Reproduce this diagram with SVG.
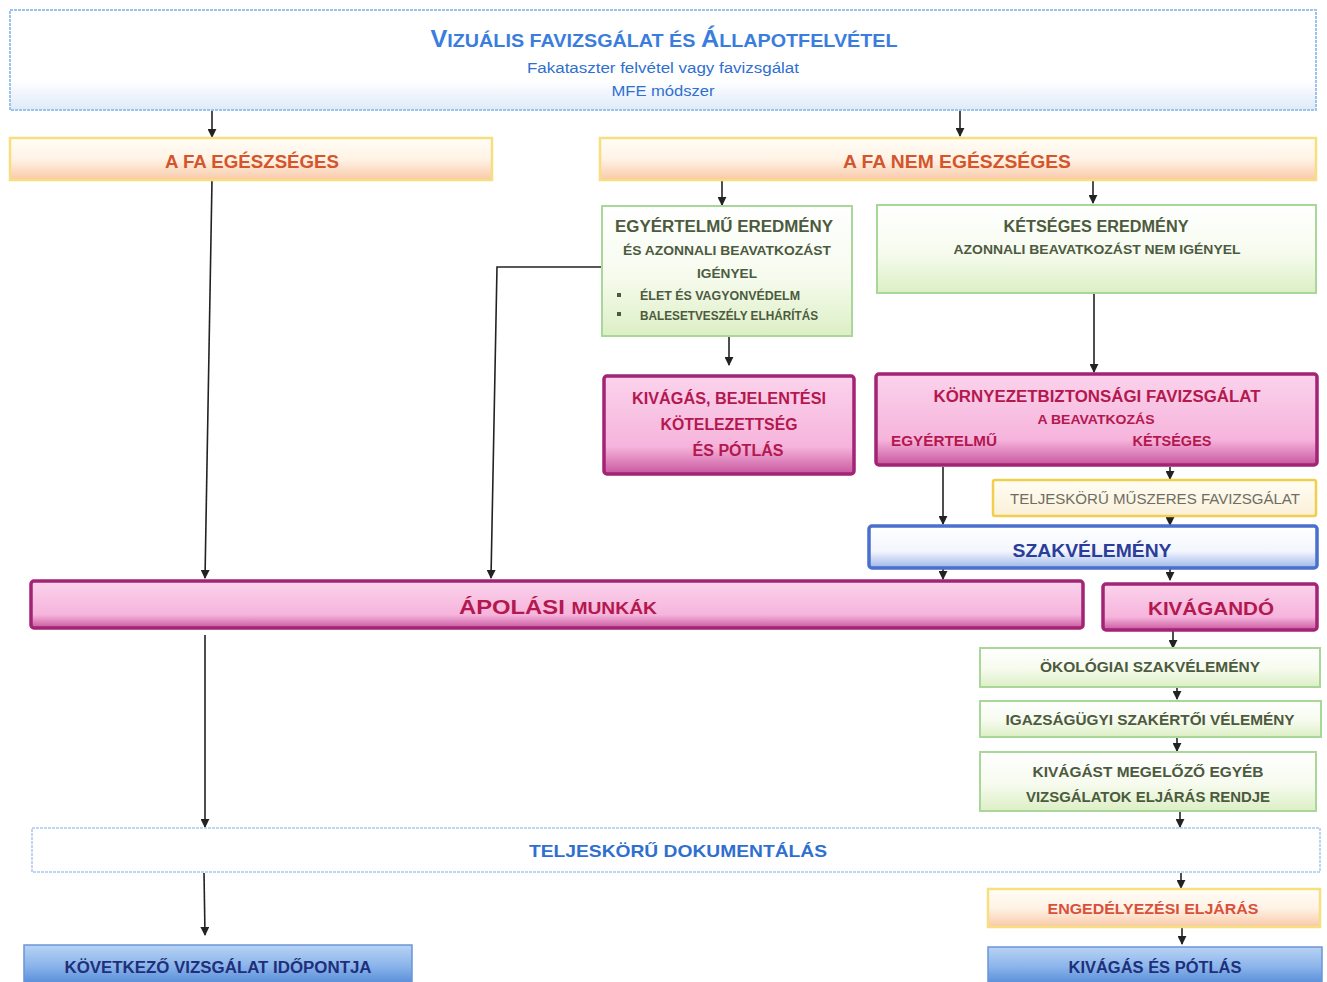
<svg xmlns="http://www.w3.org/2000/svg" width="1327" height="982" viewBox="0 0 1327 982">
<defs>
<linearGradient id="gBlueTop" x1="0" y1="0" x2="0" y2="1"><stop offset="0" stop-color="#ffffff"/><stop offset="0.7" stop-color="#ffffff"/><stop offset="1" stop-color="#dfeaf9"/></linearGradient>
<linearGradient id="gOrange" x1="0" y1="0" x2="0" y2="1"><stop offset="0" stop-color="#fffdf6"/><stop offset="0.5" stop-color="#fff3e6"/><stop offset="1" stop-color="#f9c9a8"/></linearGradient>
<linearGradient id="gGreen" x1="0" y1="0" x2="0" y2="1"><stop offset="0" stop-color="#ffffff"/><stop offset="0.55" stop-color="#f6fbee"/><stop offset="1" stop-color="#dcefc4"/></linearGradient>
<linearGradient id="gPink" x1="0" y1="0" x2="0" y2="1"><stop offset="0" stop-color="#fbd3ec"/><stop offset="0.72" stop-color="#f6b4dc"/><stop offset="1" stop-color="#c8579f"/></linearGradient>
<linearGradient id="gYellow" x1="0" y1="0" x2="0" y2="1"><stop offset="0" stop-color="#fffdf4"/><stop offset="1" stop-color="#fbf0d8"/></linearGradient>
<linearGradient id="gSzak" x1="0" y1="0" x2="0" y2="1"><stop offset="0" stop-color="#ffffff"/><stop offset="0.6" stop-color="#f3f6fd"/><stop offset="1" stop-color="#9fb6ea"/></linearGradient>
<linearGradient id="gBlueBox" x1="0" y1="0" x2="0" y2="1"><stop offset="0" stop-color="#b8d3f4"/><stop offset="0.5" stop-color="#8ab4ea"/><stop offset="1" stop-color="#4f86d6"/></linearGradient>
<marker id="arr" viewBox="0 0 10 10" refX="9" refY="5" markerWidth="9" markerHeight="9" markerUnits="userSpaceOnUse" orient="auto"><path d="M0,0 L10,5 L0,10 z" fill="#222"/></marker>
</defs>
<style>
text{font-family:"Liberation Sans",Arial,sans-serif;font-weight:bold;text-anchor:middle}
.blue{fill:#3b7ddd}
.sub{font-weight:normal;font-size:14px;fill:#2f6fd0}
.org{fill:#d4552c;font-size:18px}
.grn{fill:#4c5a3e}
.pk{fill:#b3184f}
.dk{fill:#1f2f7c}
.bTop{fill:url(#gBlueTop);stroke:#9cc3ee;stroke-width:2;stroke-dasharray:3 1}
.bOrg{fill:url(#gOrange);stroke:#f7df80;stroke-width:2.5}
.bGrn{fill:url(#gGreen);stroke:#a9d79a;stroke-width:2}
.bPk{fill:url(#gPink);stroke:#a32375;stroke-width:3.5}
.bYel{fill:url(#gYellow);stroke:#f0cf4c;stroke-width:2.5}
.bSz{fill:url(#gSzak);stroke:#4a6fcc;stroke-width:3.5}
.bDoc{fill:#ffffff;stroke:#a9c9ef;stroke-width:1.5;stroke-dasharray:3 1}
.bBl{fill:url(#gBlueBox);stroke:#6b95d8;stroke-width:1.5}
.con{stroke:#222;stroke-width:1.6;fill:none;marker-end:url(#arr)}
</style>
<rect width="1327" height="982" fill="#ffffff"/>

<g id="connectors">
<line class="con" x1="212" y1="111" x2="212" y2="137"/>
<line class="con" x1="960" y1="111" x2="960" y2="136"/>
<line class="con" x1="722" y1="180" x2="722" y2="205"/>
<line class="con" x1="1093" y1="180" x2="1093" y2="203"/>
<line class="con" x1="212" y1="180" x2="205" y2="578"/>
<polyline class="con" points="602,267 497,267 491,578"/>
<line class="con" x1="729" y1="337" x2="729" y2="365"/>
<line class="con" x1="1094" y1="294" x2="1094" y2="372"/>
<line class="con" x1="943" y1="467" x2="943" y2="524"/>
<line class="con" x1="1170" y1="467" x2="1170" y2="479"/>
<line class="con" x1="1170" y1="517" x2="1170" y2="525"/>
<line class="con" x1="943" y1="569" x2="943" y2="579"/>
<line class="con" x1="1170" y1="569" x2="1170" y2="580"/>
<line class="con" x1="1173" y1="631" x2="1173" y2="648"/>
<line class="con" x1="1177" y1="688" x2="1177" y2="699"/>
<line class="con" x1="1177" y1="738" x2="1177" y2="751"/>
<line class="con" x1="1180" y1="812" x2="1180" y2="827"/>
<line class="con" x1="205" y1="635" x2="205" y2="827"/>
<line class="con" x1="204" y1="873" x2="205" y2="935"/>
<line class="con" x1="1181" y1="873" x2="1181" y2="888"/>
<line class="con" x1="1182" y1="928" x2="1182" y2="944"/>
</g>

<g id="n-vizualis">
<rect class="bTop" x="10" y="10" width="1306" height="100"/>
<text class="blue" x="664" y="47" textLength="467" lengthAdjust="spacingAndGlyphs"><tspan font-size="23">V</tspan><tspan font-size="18">IZUÁLIS FAVIZSGÁLAT ÉS </tspan><tspan font-size="23">Á</tspan><tspan font-size="18">LLAPOTFELVÉTEL</tspan></text>
<text class="sub" x="663" y="73" textLength="272" lengthAdjust="spacingAndGlyphs">Fakataszter felvétel vagy favizsgálat</text>
<text class="sub" x="663" y="96" textLength="103" lengthAdjust="spacingAndGlyphs">MFE módszer</text>
</g>

<g id="n-egeszseges">
<rect class="bOrg" x="10" y="138" width="482" height="42"/>
<text class="org" x="252" y="168" textLength="174" lengthAdjust="spacingAndGlyphs">A FA EGÉSZSÉGES</text>
</g>

<g id="n-nem-egeszseges">
<rect class="bOrg" x="600" y="138" width="716" height="42"/>
<text class="org" x="957" y="168" textLength="228" lengthAdjust="spacingAndGlyphs">A FA NEM EGÉSZSÉGES</text>
</g>

<g id="n-egyertelmu">
<rect class="bGrn" x="602" y="206" width="250" height="130"/>
<text class="grn" x="724" y="232" font-size="16" textLength="218" lengthAdjust="spacingAndGlyphs">EGYÉRTELMŰ EREDMÉNY</text>
<text class="grn" x="727" y="255" font-size="13" textLength="208" lengthAdjust="spacingAndGlyphs">ÉS AZONNALI BEAVATKOZÁST</text>
<text class="grn" x="727" y="278" font-size="13" textLength="60" lengthAdjust="spacingAndGlyphs">IGÉNYEL</text>
<rect x="617" y="293" width="4" height="4" fill="#4c5a3e"/>
<text class="grn" x="640" y="300" font-size="12" text-anchor="start" style="text-anchor:start" textLength="160" lengthAdjust="spacingAndGlyphs">ÉLET ÉS VAGYONVÉDELM</text>
<rect x="617" y="312" width="4" height="4" fill="#4c5a3e"/>
<text class="grn" x="640" y="320" font-size="12" style="text-anchor:start" textLength="178" lengthAdjust="spacingAndGlyphs">BALESETVESZÉLY ELHÁRÍTÁS</text>
</g>

<g id="n-ketseges">
<rect class="bGrn" x="877" y="205" width="439" height="88"/>
<text class="grn" x="1096" y="232" font-size="16" textLength="185" lengthAdjust="spacingAndGlyphs">KÉTSÉGES EREDMÉNY</text>
<text class="grn" x="1097" y="254" font-size="13" textLength="287" lengthAdjust="spacingAndGlyphs">AZONNALI BEAVATKOZÁST NEM IGÉNYEL</text>
</g>

<g id="n-kivagas-bejelentesi">
<rect class="bPk" x="604" y="376" width="250" height="98" rx="3"/>
<text class="pk" x="729" y="404" font-size="16" textLength="194" lengthAdjust="spacingAndGlyphs">KIVÁGÁS, BEJELENTÉSI</text>
<text class="pk" x="729" y="430" font-size="16" textLength="137" lengthAdjust="spacingAndGlyphs">KÖTELEZETTSÉG</text>
<text class="pk" x="738" y="456" font-size="16" textLength="91" lengthAdjust="spacingAndGlyphs">ÉS PÓTLÁS</text>
</g>

<g id="n-kornyezetbiztonsagi">
<rect class="bPk" x="876" y="374" width="441" height="91" rx="3"/>
<text class="pk" x="1097" y="402" font-size="16" textLength="327" lengthAdjust="spacingAndGlyphs">KÖRNYEZETBIZTONSÁGI FAVIZSGÁLAT</text>
<text class="pk" x="1096" y="424" font-size="12" textLength="117" lengthAdjust="spacingAndGlyphs">A BEAVATKOZÁS</text>
<text class="pk" x="891" y="446" font-size="15" style="text-anchor:start" textLength="106" lengthAdjust="spacingAndGlyphs">EGYÉRTELMŰ</text>
<text class="pk" x="1172" y="446" font-size="15" textLength="79" lengthAdjust="spacingAndGlyphs">KÉTSÉGES</text>
</g>

<g id="n-muszeres">
<rect class="bYel" x="993" y="480" width="323" height="36" rx="2"/>
<text x="1155" y="504" font-size="14" fill="#6d6d64" font-weight="normal" style="font-weight:normal" textLength="290" lengthAdjust="spacingAndGlyphs">TELJESKÖRŰ MŰSZERES FAVIZSGÁLAT</text>
</g>

<g id="n-szakvelemeny">
<rect class="bSz" x="869" y="526" width="448" height="42" rx="3"/>
<text x="1092" y="557" font-size="19" fill="#2b3d9a" textLength="159" lengthAdjust="spacingAndGlyphs">SZAKVÉLEMÉNY</text>
</g>

<g id="n-apolasi">
<rect class="bPk" x="31" y="581" width="1052" height="47" rx="3"/>
<text class="pk" x="558" y="614" textLength="198" lengthAdjust="spacingAndGlyphs"><tspan font-size="21">ÁPOLÁSI </tspan><tspan font-size="17">MUNKÁK</tspan></text>
</g>

<g id="n-kivagando">
<rect class="bPk" x="1103" y="584" width="214" height="46" rx="3"/>
<text class="pk" x="1211" y="615" font-size="19" textLength="126" lengthAdjust="spacingAndGlyphs">KIVÁGANDÓ</text>
</g>

<g id="n-okologiai">
<rect class="bGrn" x="980" y="648" width="340" height="39"/>
<text class="grn" x="1150" y="672" font-size="15" textLength="220" lengthAdjust="spacingAndGlyphs">ÖKOLÓGIAI SZAKVÉLEMÉNY</text>
</g>

<g id="n-igazsagugyi">
<rect class="bGrn" x="980" y="701" width="341" height="36"/>
<text class="grn" x="1150" y="725" font-size="15" textLength="289" lengthAdjust="spacingAndGlyphs">IGAZSÁGÜGYI SZAKÉRTŐI VÉLEMÉNY</text>
</g>

<g id="n-kivagast-megelozo">
<rect class="bGrn" x="980" y="752" width="336" height="59"/>
<text class="grn" x="1148" y="777" font-size="15" textLength="231" lengthAdjust="spacingAndGlyphs">KIVÁGÁST MEGELŐZŐ EGYÉB</text>
<text class="grn" x="1148" y="802" font-size="15" textLength="244" lengthAdjust="spacingAndGlyphs">VIZSGÁLATOK ELJÁRÁS RENDJE</text>
</g>

<g id="n-dokumentalas">
<rect class="bDoc" x="32" y="828" width="1288" height="44"/>
<text x="678" y="857" font-size="17" fill="#2f6fd0" textLength="298" lengthAdjust="spacingAndGlyphs">TELJESKÖRŰ DOKUMENTÁLÁS</text>
</g>

<g id="n-engedelyezesi">
<rect class="bOrg" x="988" y="889" width="332" height="38"/>
<text x="1153" y="914" font-size="15" fill="#d9503a" textLength="211" lengthAdjust="spacingAndGlyphs">ENGEDÉLYEZÉSI ELJÁRÁS</text>
</g>

<g id="n-kivagas-potlas">
<rect class="bBl" x="988" y="947" width="334" height="40"/>
<text class="dk" x="1155" y="973" font-size="16" textLength="173" lengthAdjust="spacingAndGlyphs">KIVÁGÁS ÉS PÓTLÁS</text>
</g>

<g id="n-kovetkezo">
<rect class="bBl" x="24" y="945" width="388" height="42"/>
<text class="dk" x="218" y="973" font-size="16" textLength="307" lengthAdjust="spacingAndGlyphs">KÖVETKEZŐ VIZSGÁLAT IDŐPONTJA</text>
</g>
</svg>
